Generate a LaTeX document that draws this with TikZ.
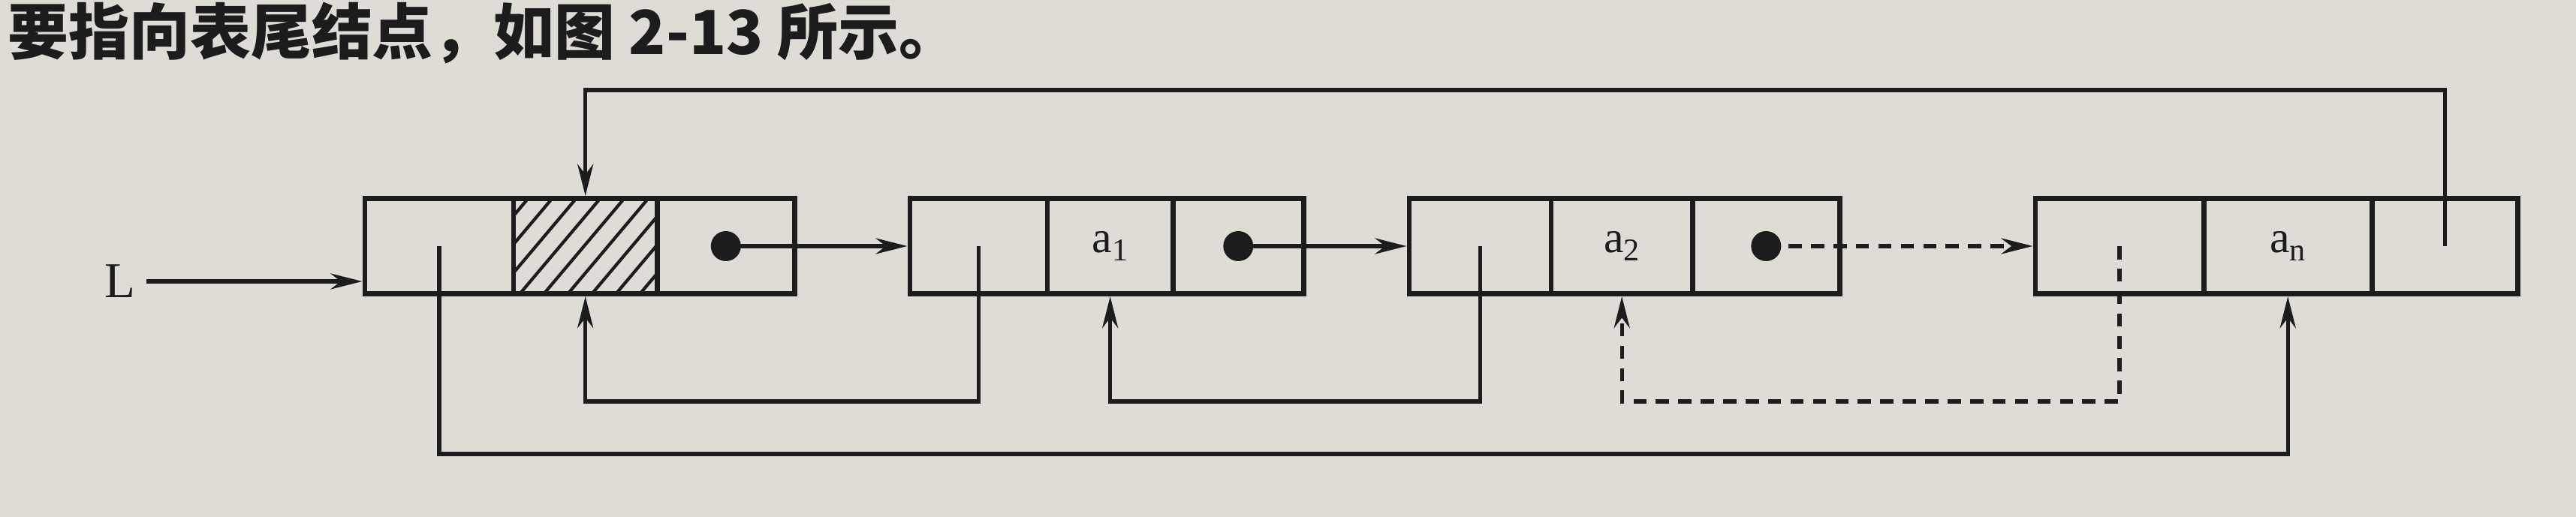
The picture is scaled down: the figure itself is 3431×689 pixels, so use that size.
\documentclass[tikz,border=0pt]{standalone}
\usepackage{fontspec}
\setmainfont{Liberation Serif}
\newfontfamily\cjk{Noto Sans CJK SC}
\usepackage{tikz}
\usetikzlibrary{arrows.meta, positioning}
\definecolor{paper}{RGB}{223,220,213}
\definecolor{ink}{RGB}{28,28,28}
\newcommand{\lowidx}[1]{\raisebox{-0.2em}{\fontsize{12}{12}\selectfont #1}}

\begin{document}
\begin{tikzpicture}[
            x = 0.01cm, y = -0.01cm, % one unit per pixel, y downwards
            > = {Stealth[length=12pt, width=6pt]}, % arrow head style
            shorten > = 1pt, % don't touch arrow head to node
            color = ink,
            line width = 1.5pt, % line style
            font = \fontsize{17}{20}\selectfont
        ]

        \tikzstyle{cell}=[
            draw = ink,
            line width = 1.9pt,
            minimum height = 1.27cm,
            inner sep = 0pt,
            outer sep = 0pt
        ]
        \tikzstyle{dotmark}=[circle, fill = ink, minimum size = 4mm, inner sep = 0pt]

        \fill[paper] (0,0) rectangle (3431,689);
        \useasboundingbox (0,0) rectangle (3431,689);

        \node[anchor=base west, inner sep=0pt, font=\fontsize{23}{27}\cjk\bfseries] (caption) at (8,73) {要指向表尾结点，如图 2-13 所示。};

        % head node
        \node[cell, minimum width=1.98cm, anchor=west] (n0p) at (486,328) {};
        \node[cell, minimum width=1.91cm, right=0pt of n0p] (n0d) {};
        \node[cell, minimum width=1.83cm, right=0pt of n0d] (n0n) {};

        % a1
        \node[cell, minimum width=1.83cm, anchor=west] (n1p) at (1212,328) {};
        \node[cell, minimum width=1.67cm, right=0pt of n1p] (n1d) {a\lowidx{1}};
        \node[cell, minimum width=1.74cm, right=0pt of n1d] (n1n) {};

        % a2
        \node[cell, minimum width=1.89cm, anchor=west] (n2p) at (1877,328) {};
        \node[cell, minimum width=1.88cm, right=0pt of n2p] (n2d) {a\lowidx{2}};
        \node[cell, minimum width=1.96cm, right=0pt of n2d] (n2n) {};

        % an
        \node[cell, minimum width=2.24cm, anchor=west] (nnp) at (2711,328) {};
        \node[cell, minimum width=2.24cm, right=0pt of nnp] (nnd) {a\lowidx{n}};
        \node[cell, minimum width=1.94cm, right=0pt of nnd] (nnn) {};

        % hatched data field of the head
        \begin{scope}
            \clip (n0d.south west) rectangle (n0d.north east);
            \foreach \t in {671,703,...,960}
                \draw[line width=1.2pt] (\t,265) -- ++(-107,127);
        \end{scope}
        \node[cell, minimum width=1.91cm] at (n0d) {};

        \node[dotmark] (dot0) at (n0n.center) {};
        \node[dotmark] (dot1) at (n1n.center) {};
        \node[dotmark] (dot2) at (n2n.center) {};

        \node[font=\fontsize{19}{22}\selectfont] (L) at (160,375) {L};

        \coordinate (top) at (0,120);
        \coordinate (inner) at (0,535);
        \coordinate (outer) at (0,605);

        % next links
        \draw[->] (L.east) -- (L.east -| n0p.west);
        \draw[->] (dot0.center) -- (dot0 -| n1p.west);
        \draw[->] (dot1.center) -- (dot1 -| n2p.west);
        \draw[->, dash pattern=on 5pt off 3.5pt] (dot2.center) -- (dot2 -| nnp.west);
        \draw[->] (nnn.center) -- (nnn.center |- top) -| (n0d.north);

        % prior links
        \draw[->] (n0p.center) -- (n0p.center |- outer) -| (nnd.south);
        \draw[->] (n1p.center) -- (n1p.center |- inner) -| (n0d.south);
        \draw[->] (n2p.center) -- (n2p.center |- inner) -| (n1d.south);
        \draw[->, dash pattern=on 5pt off 3.5pt] (nnp.center) -- (nnp.center |- inner) -| (n2d.south);

  \end{tikzpicture}
\end{document}
